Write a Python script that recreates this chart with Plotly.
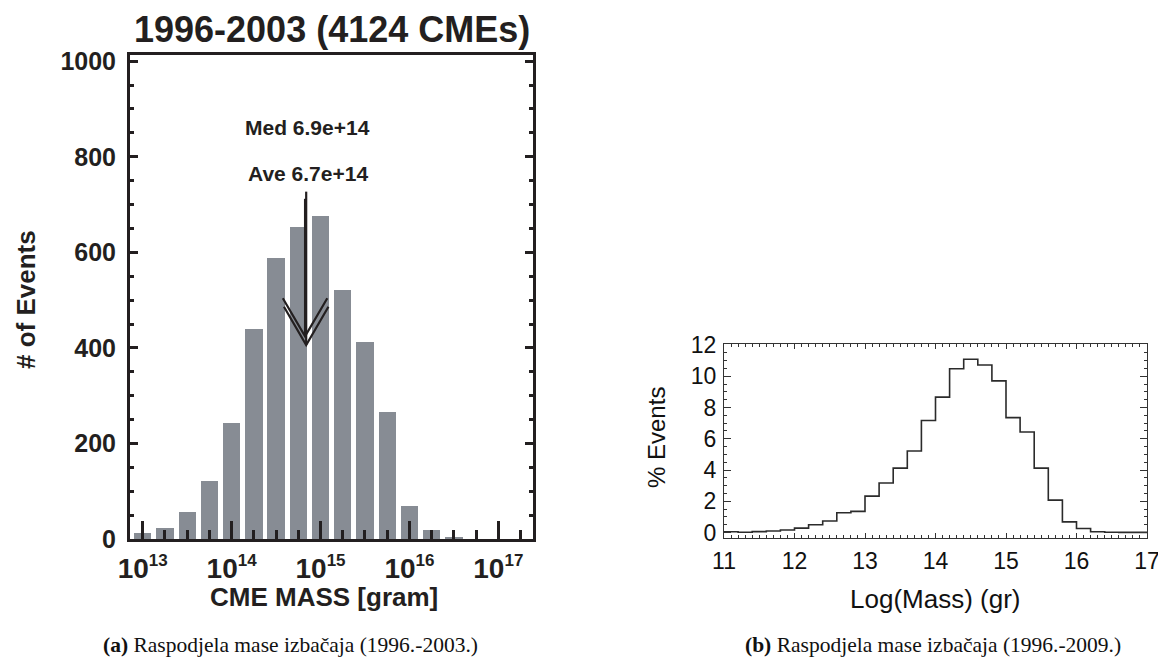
import plotly.graph_objects as go
import math

# ---------------- data ----------------
# Panel (a): CME mass histogram 1996-2003, bins in log10(mass [g]), 0.25 dex
mass_log_centers = [13.0, 13.25, 13.5, 13.75, 14.0, 14.25, 14.5, 14.75,
                    15.0, 15.25, 15.5, 15.75, 16.0, 16.25, 16.5]
event_counts = [12, 23, 56, 122, 243, 440, 588, 652, 675, 522, 413, 265, 70, 19, 5]
median_mass = 6.9e14
average_mass = 6.7e14
decade_ticks = [13, 14, 15, 16, 17]
decade_exponents = ["13", "14", "15", "16", "17"]

# Panel (b): % events vs log mass 1996-2009, bin edges 11.0..17.0 step 0.2
logmass_bin_left = [11.0, 11.2, 11.4, 11.6, 11.8, 12.0, 12.2, 12.4, 12.6, 12.8,
                    13.0, 13.2, 13.4, 13.6, 13.8, 14.0, 14.2, 14.4, 14.6, 14.8,
                    15.0, 15.2, 15.4, 15.6, 15.8, 16.0, 16.2, 16.4, 16.6, 16.8]
pct_events = [0.05, 0.02, 0.06, 0.10, 0.16, 0.28, 0.50, 0.74, 1.27, 1.35,
              2.33, 3.17, 4.12, 5.22, 7.17, 8.66, 10.48, 11.08, 10.72, 9.70,
              7.35, 6.43, 4.12, 2.07, 0.68, 0.26, 0.05, 0.02, 0.01, 0.01]
last_edge = 17.0

# ---------------- styling ----------------
INK = "#231f20"
BAR = "#878c94"
SANS = "Liberation Sans, Arial, sans-serif"
SERIF = "Liberation Serif, Times New Roman, serif"
OFF = 8                      # default page body margin
W, H = 1166 - OFF, 660 - OFF

def px_x(p):
    return (p - OFF) / W

def px_y(p):
    return 1 - (p - OFF) / H

decade_labels = ["10<sup><span style='font-size:17px'>%s</span></sup>" % e
                 for e in decade_exponents]

fig = go.Figure()

# ---- panel (a) bars ----
fig.add_trace(go.Bar(
    x=mass_log_centers, y=event_counts, width=0.195,
    marker=dict(color=BAR, line=dict(width=0)),
    xaxis="x", yaxis="y", showlegend=False, hoverinfo="skip"))

# median / average arrows
arrow_top = [727, 712]
arrow_tip = [406, 424]
head_dx = 0.25
head_dy = 80
for m, top, tip in zip([median_mass, average_mass], arrow_top, arrow_tip):
    lx = math.log10(m)
    fig.add_trace(go.Scatter(
        x=[lx, lx], y=[top, tip], mode="lines",
        line=dict(color=INK, width=2.2), xaxis="x", yaxis="y",
        showlegend=False, hoverinfo="skip"))
    fig.add_trace(go.Scatter(
        x=[lx - head_dx, lx, lx + head_dx], y=[tip + head_dy, tip, tip + head_dy],
        mode="lines", line=dict(color=INK, width=2.2), xaxis="x", yaxis="y",
        showlegend=False, hoverinfo="skip"))

# ---- panel (b) step histogram ----
step_x = logmass_bin_left + [last_edge]
step_y = pct_events + [pct_events[-1]]
fig.add_trace(go.Scatter(
    x=step_x, y=step_y, mode="lines", line=dict(color="#2b2b2b", width=1.6, shape="hv"),
    xaxis="x2", yaxis="y2", showlegend=False, hoverinfo="skip"))

# ---------------- axes ----------------
fig.update_layout(
    width=W, height=H,
    margin=dict(l=0, r=0, t=0, b=0, autoexpand=False),
    paper_bgcolor="white", plot_bgcolor="white",
    bargap=0,
    xaxis=dict(
        domain=[px_x(130), px_x(533)], range=[12.857, 17.39], anchor="y",
        automargin=False,
        showgrid=False, zeroline=False,
        showline=True, linecolor=INK, linewidth=3, mirror=True,
        ticks="inside", ticklen=18, tickwidth=2.5, tickcolor=INK,
        tickvals=decade_ticks, ticktext=decade_labels,
        tickfont=dict(family=SANS, size=28, color=INK, weight="bold"),
        ticklabelstandoff=2,
        minor=dict(ticks="inside", ticklen=9, tickwidth=2.5, tickcolor=INK,
                   tick0=13, dtick=0.25, showgrid=False),
    ),
    yaxis=dict(
        domain=[px_y(539), px_y(55)], range=[0, 1013], anchor="x",
        automargin=False,
        showgrid=False, zeroline=False,
        showline=True, linecolor=INK, linewidth=3, mirror="ticks",
        ticks="inside", ticklen=8, tickwidth=2.5, tickcolor=INK,
        tickvals=[0, 200, 400, 600, 800, 1000],
        tickfont=dict(family=SANS, size=25, color=INK, weight="bold"),
        ticklabelstandoff=6,
        minor=dict(ticks="inside", ticklen=4, tickwidth=2.5, tickcolor=INK,
                   tick0=0, dtick=50, showgrid=False),
    ),
    xaxis2=dict(
        domain=[px_x(724), px_x(1147)], range=[11, 17], anchor="y2",
        automargin=False,
        showgrid=False, zeroline=False,
        showline=True, linecolor="#333333", linewidth=1.3, mirror="ticks",
        ticks="inside", ticklen=5, tickwidth=1, tickcolor="#333333",
        tickvals=[11, 12, 13, 14, 15, 16, 17],
        tickfont=dict(family=SANS, size=23, color="#111111"),
        ticklabelstandoff=2,
        minor=dict(ticks="inside", ticklen=2.5, tickwidth=1, tickcolor="#333333",
                   tick0=11, dtick=0.1, showgrid=False),
    ),
    yaxis2=dict(
        domain=[px_y(538), px_y(344)], range=[-0.35, 12.06], anchor="x2",
        automargin=False,
        showgrid=False, zeroline=False,
        showline=True, linecolor="#333333", linewidth=1.3, mirror="ticks",
        ticks="inside", ticklen=7, tickwidth=1, tickcolor="#333333",
        tickvals=[0, 2, 4, 6, 8, 10, 12],
        tickfont=dict(family=SANS, size=23, color="#111111"),
        ticklabelstandoff=2,
        minor=dict(ticks="inside", ticklen=3, tickwidth=1, tickcolor="#333333",
                   tick0=0, dtick=0.5, showgrid=False),
    ),
)

# ---------------- texts ----------------
def text_ann(text, x, y, size, family=SANS, color=INK, xref="paper", yref="paper", angle=0):
    return dict(text=text, x=x, y=y, xref=xref, yref=yref, showarrow=False,
                xanchor="center", yanchor="middle", textangle=angle,
                font=dict(family=family, size=size, color=color))

ann = [
    text_ann("<b>1996-2003 (4124 CMEs)</b>", px_x(332), px_y(29), 36),
    text_ann("<b># of Events</b>", px_x(26), px_y(300), 26, angle=-90),
    text_ann("<b>CME MASS [gram]</b>", px_x(324), px_y(597), 26),
    text_ann("<b>Med %.1e</b>" % median_mass, 14.857, 861, 21, xref="x", yref="y"),
    text_ann("<b>Ave %.1e</b>" % average_mass, 14.857, 766, 21, xref="x", yref="y"),
    text_ann("% Events", px_x(656), px_y(438), 24, color="#111111", angle=-90),
    text_ann("Log(Mass) (gr)", px_x(935), px_y(599), 26, color="#111111"),
    text_ann("<b>(a)</b> Raspodjela mase izbačaja (1996.-2003.)", px_x(290), px_y(645),
             21.5, family=SERIF, color="#111111"),
    text_ann("<b>(b)</b> Raspodjela mase izbačaja (1996.-2009.)", px_x(933), px_y(645),
             21.5, family=SERIF, color="#111111"),
]
fig.update_layout(annotations=ann)

fig.write_html("out.html")
